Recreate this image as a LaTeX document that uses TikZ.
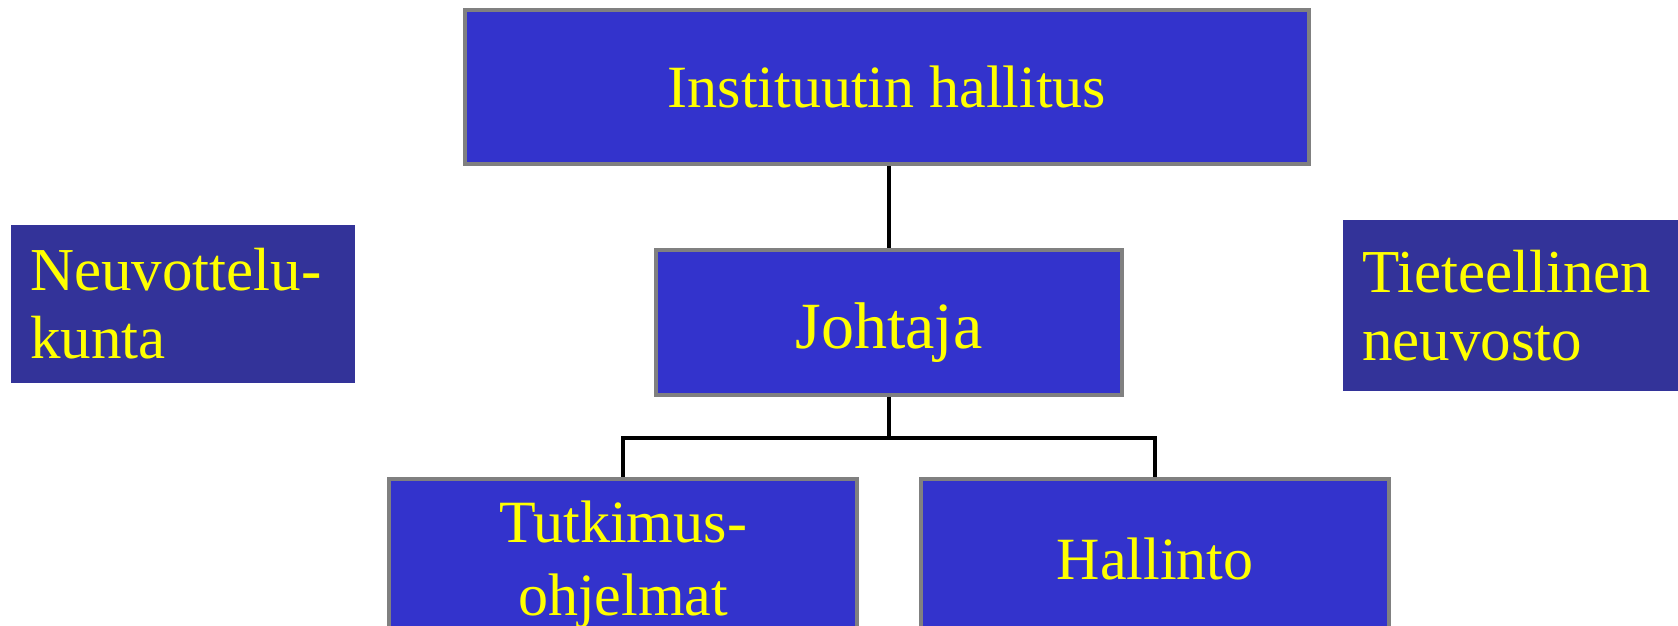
\documentclass[tikz,border=0pt]{standalone}
\usepackage{fontspec}
\setmainfont{Liberation Serif}
\usetikzlibrary{positioning}
\definecolor{boxblue}{RGB}{51,51,204}
\definecolor{sideblue}{RGB}{51,51,153}
\definecolor{boxgray}{RGB}{128,128,128}
\definecolor{boxyellow}{RGB}{255,255,0}
\tikzstyle{orgbox} = [rectangle, inner sep=0pt, align=center, draw=boxgray, line width=4pt, fill=boxblue, text=boxyellow, font=\fontsize{60}{73}\selectfont]
\tikzstyle{sidebox} = [rectangle, inner sep=0pt, align=left, fill=sideblue, text=boxyellow, font=\fontsize{61}{68}\selectfont]
\tikzstyle{link} = [line width=4pt, black]

\begin{document}
\begin{tikzpicture}[x=1pt, y=-1pt, node distance=235pt]
	\useasboundingbox (0,0) rectangle (1678,626);
	\clip (0,0) rectangle (1678,626);
	
	\node (hallitus) [orgbox, minimum width=844pt, minimum height=153pt] at (887,87) {Instituutin hallitus};
	
	\node (johtaja) [orgbox, below of=hallitus, xshift=2pt, minimum width=466pt, minimum height=145pt, font=\fontsize{66}{73}\selectfont, text height=53pt, text depth=0pt] {Johtaja};
	
	\node (tutkimus) [orgbox, below of=johtaja, xshift=-266pt, yshift=-8pt, minimum width=468pt, minimum height=172pt] {Tutkimus-\\ohjelmat};
	
	\node (hallinto) [orgbox, below of=johtaja, xshift=266pt, yshift=-2pt, minimum width=468pt, minimum height=160pt] {Hallinto};
	
	\node (neuvottelu) [sidebox, minimum width=344pt, minimum height=158pt, text width=306pt] at (183,304) {Neuvottelu-\\kunta};
	
	\node (tieteellinen) [sidebox, minimum width=335pt, minimum height=171pt, text width=297pt] at (1510.5,305.5) {Tieteellinen\\neuvosto};
	
	\coordinate [below=41pt of johtaja] (fork);
	
	\draw [link] (johtaja.north) -- (johtaja.north |- hallitus.south);
	\draw [link] (johtaja) -- (fork) -| (tutkimus);
	\draw [link] (fork) -| (hallinto);
\end{tikzpicture}
\end{document}
